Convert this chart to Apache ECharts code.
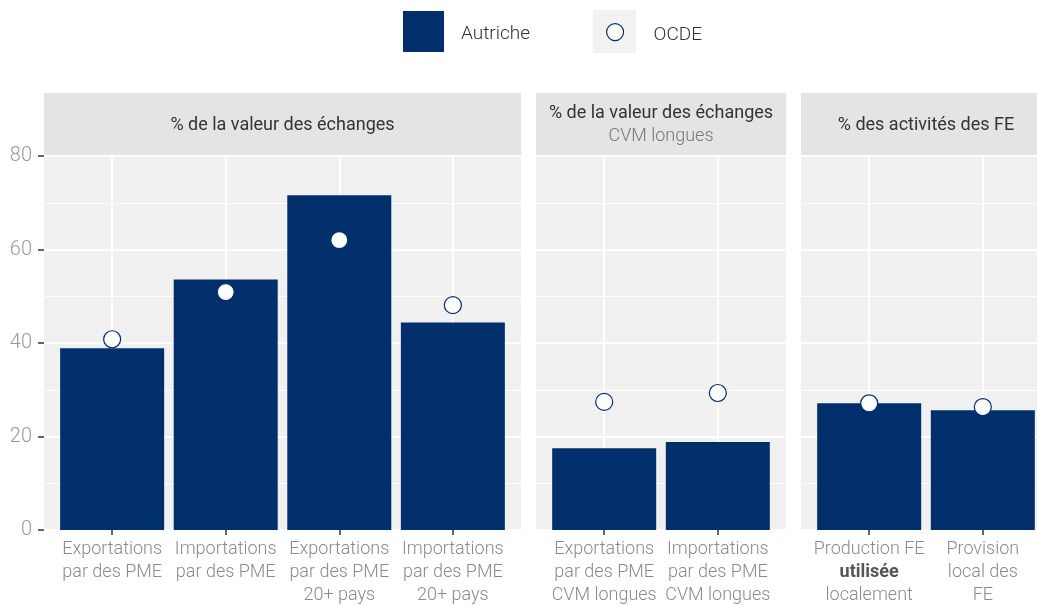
<!DOCTYPE html>
<html>
<head>
<meta charset="utf-8">
<script src="https://cdn.jsdelivr.net/npm/echarts@6/dist/echarts.min.js"></script>
<style>html,body{margin:0;padding:0;background:#fff}#c{width:1037px;height:606px}</style>
</head>
<body>
<div id="c"></div>
<script>
// ---- data ----
const catsTrade = ['Exportations\npar des PME', 'Importations\npar des PME', 'Exportations\npar des PME\n20+ pays', 'Importations\npar des PME\n20+ pays'];
const catsGvc = ['Exportations\npar des PME\nCVM longues', 'Importations\npar des PME\nCVM longues'];
const catsFe = ['Production FE\n{b|utilisée}\nlocalement', 'Provision\nlocal des\nFE'];
const autricheTrade = [38.9, 53.6, 71.6, 44.4];
const ocdeTrade = [40.8, 50.9, 62.0, 48.1];
const autricheGvc = [17.5, 18.8];
const ocdeGvc = [27.4, 29.3];
const autricheFe = [27.1, 25.6];
const ocdeFe = [27.1, 26.3];
const yTicks = [0, 20, 40, 60, 80];
const stripTitles = ['% de la valeur des échanges', '% de la valeur des échanges', '% des activités des FE'];
const stripSub = ['', 'CVM longues', ''];

const NAVY = '#002F6C';
const FONT = "Roboto, 'Liberation Sans', sans-serif";
const panels = [
  {left: 44, width: 477, cats: catsTrade, a: autricheTrade, o: ocdeTrade},
  {left: 536, width: 250, cats: catsGvc, a: autricheGvc, o: ocdeGvc},
  {left: 801, width: 250, cats: catsFe, a: autricheFe, o: ocdeFe}
];
const TOP = 156, BOTTOM = 530;

const grids = [], xAxes = [], yAxes = [], series = [], graphics = [];
panels.forEach((p, i) => {
  const n = p.cats.length;
  const unit = p.width / (n - 1 + 1.2);
  grids.push({left: p.left, width: p.width, top: TOP, height: BOTTOM - TOP,
    show: true, backgroundColor: '#F0F0F0', borderWidth: 0, containLabel: false, outerBoundsMode: 'none'});
  const idx = p.cats.map((_, k) => k);
  xAxes.push({type: 'value', gridIndex: i, min: -0.6, max: n - 1 + 0.6,
    axisLine: {show: false, onZero: false},
    axisTick: {show: true, customValues: idx, length: 5, lineStyle: {color: '#333', width: 1.5}},
    axisLabel: {show: true, customValues: idx, hideOverlap: false, margin: 8, color: '#8a8a8a',
      fontFamily: FONT, fontWeight: 300, fontSize: 18, lineHeight: 23,
      formatter: v => p.cats[Math.round(v)],
      rich: {b: {fontWeight: 'bold', color: '#555', fontFamily: FONT, fontSize: 18, lineHeight: 23}}},
    splitLine: {show: true, lineStyle: {color: '#fff', width: 2}}
  });
  yAxes.push({type: 'value', gridIndex: i, min: 0, max: 80, interval: 20,
    axisLine: {show: false, onZero: false},
    axisTick: {show: i === 0, length: 6, lineStyle: {color: '#333', width: 1.5}},
    axisLabel: {show: i === 0, margin: 12, color: '#9a9a9a', fontFamily: FONT, fontWeight: 300, fontSize: 20},
    splitLine: {show: true, lineStyle: {color: '#fff', width: 2}},
    minorTick: {show: false, splitNumber: 2},
    minorSplitLine: {show: true, lineStyle: {color: '#fff', width: 1}}
  });
  series.push({type: 'bar', name: 'Autriche', xAxisIndex: i, yAxisIndex: i,
    barWidth: Math.round(unit * 0.918), itemStyle: {color: NAVY},
    data: p.a.map((v, k) => [k, v]), z: 2, silent: true});
  series.push({type: 'scatter', name: 'OCDE', xAxisIndex: i, yAxisIndex: i,
    symbol: 'circle', symbolSize: 17,
    itemStyle: {color: '#fff', borderColor: NAVY, borderWidth: 1.2, opacity: 1},
    data: p.o.map((v, k) => [k, v]), z: 3, silent: true});
  // strip header
  graphics.push({type: 'rect', shape: {x: p.left, y: 93, width: p.width, height: 62}, style: {fill: '#E4E4E4'}, silent: true});
  const cx = p.left + p.width / 2;
  if (stripSub[i]) {
    graphics.push({type: 'text', x: cx, y: 113, style: {text: stripTitles[i], fill: '#333', font: '18px ' + FONT, align: 'center', verticalAlign: 'middle'}});
    graphics.push({type: 'text', x: cx, y: 136, style: {text: stripSub[i], fill: '#777', font: '300 18px ' + FONT, align: 'center', verticalAlign: 'middle'}});
  } else {
    graphics.push({type: 'text', x: cx, y: 125, style: {text: stripTitles[i], fill: '#333', font: '18px ' + FONT, align: 'center', verticalAlign: 'middle'}});
  }
});
// legend key background for OCDE
graphics.push({type: 'rect', shape: {x: 593, y: 10, width: 43, height: 43}, style: {fill: '#F2F2F2'}, silent: true, z: -1});

const legendText = (padLeft) => ({
  color: '#333', fontFamily: FONT, fontWeight: 300, fontSize: 19,
  rich: {t: {color: '#333', fontFamily: FONT, fontWeight: 300, fontSize: 19, padding: [6, 0, 0, padLeft]}}
});
const chart = echarts.init(document.getElementById('c'), null, {renderer: 'canvas'});
chart.setOption({
  animation: false,
  backgroundColor: '#fff',
  grid: grids, xAxis: xAxes, yAxis: yAxes, series: series,
  graphic: graphics,
  legend: [
    {data: [{name: 'Autriche', icon: 'rect'}], left: 403, top: 11, padding: 0, itemWidth: 41, itemHeight: 41,
      formatter: name => '{t|' + name + '}', textStyle: legendText(12), selectedMode: false},
    {data: [{name: 'OCDE', icon: 'circle'}], left: 606, top: 23, padding: 0, itemWidth: 17, itemHeight: 17,
      formatter: name => '{t|' + name + '}', textStyle: legendText(25), selectedMode: false,
      itemStyle: {color: '#fff', borderColor: NAVY, borderWidth: 1.2}}
  ]
});
</script>
</body>
</html>
